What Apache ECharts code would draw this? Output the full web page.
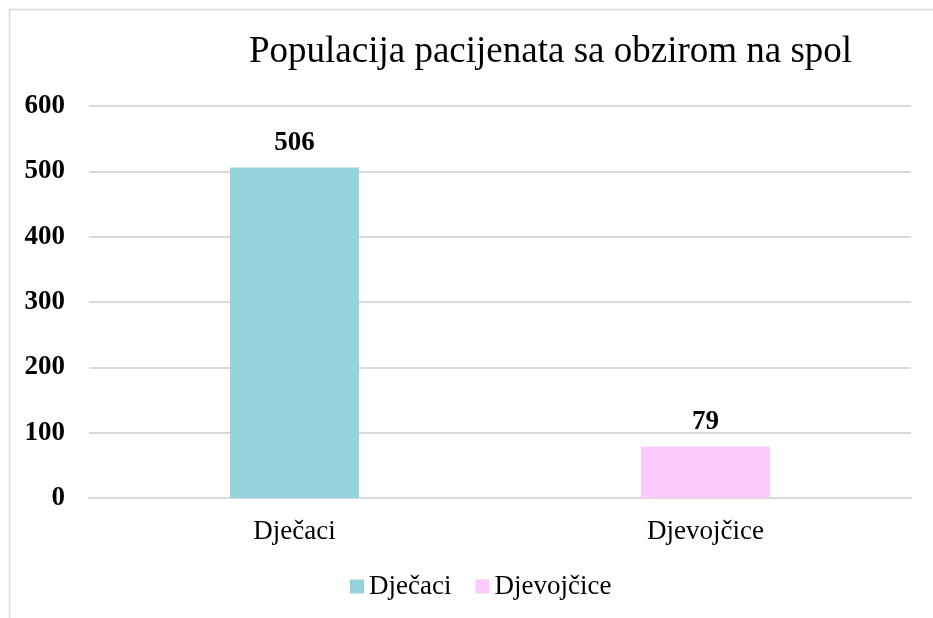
<!DOCTYPE html>
<html>
<head>
<meta charset="utf-8">
<script src="https://cdn.jsdelivr.net/npm/echarts@6/dist/echarts.min.js"></script>
<style>
  html, body { margin: 0; padding: 0; background: #fff; }
  #chart { width: 933px; height: 618px; }
</style>
</head>
<body>
<div id="chart"></div>
<script>
// podaci
var categories = ['Dječaci', 'Djevojčice'];
var seriesNames = ['Dječaci', 'Djevojčice'];
var boysValues = [506, '-'];
var girlsValues = ['-', 79];
var yTicks = [0, 100, 200, 300, 400, 500, 600];

var serif = '"Liberation Serif", "DejaVu Serif", serif';

var chart = echarts.init(document.getElementById('chart'));

function barSeries(name, data, color) {
    return {
        name: name,
        type: 'bar',
        data: data,
        barWidth: 129,
        barGap: '-100%',
        itemStyle: { color: color },
        label: {
            show: true,
            position: 'top',
            distance: 11,
            color: '#000',
            fontFamily: serif,
            fontWeight: 'bold',
            fontSize: 27
        }
    };
}

var option = {
    backgroundColor: '#fff',
    animation: false,
    graphic: [{
        type: 'rect',
        shape: { x: 9.5, y: 9.5, width: 1000, height: 1000 },
        style: { fill: 'none', stroke: '#d9d9d9', lineWidth: 1.5 },
        silent: true
    }],
    title: {
        text: 'Populacija pacijenata sa obzirom na spol',
        left: 244,
        top: 29,
        textStyle: {
            fontFamily: serif,
            fontWeight: 'normal',
            fontSize: 37,
            color: '#000'
        }
    },
    legend: {
        data: seriesNames,
        bottom: 13,
        left: 345,
        icon: 'rect',
        itemWidth: 14,
        itemHeight: 14,
        itemGap: 24,
        textStyle: { fontFamily: serif, fontSize: 27, color: '#000' }
    },
    grid: {
        left: 89,
        right: 22,
        top: 106,
        bottom: 120,
        containLabel: false
    },
    xAxis: {
        type: 'category',
        data: categories,
        axisLine: { show: true, lineStyle: { color: '#d9d9d9', width: 2 } },
        axisTick: { show: false },
        axisLabel: {
            fontFamily: serif,
            fontSize: 27,
            color: '#000',
            margin: 20
        }
    },
    yAxis: {
        type: 'value',
        min: yTicks[0],
        max: yTicks[yTicks.length - 1],
        interval: 100,
        axisLine: { show: false },
        axisTick: { show: false },
        splitLine: { lineStyle: { color: '#d9d9d9', width: 2 } },
        axisLabel: {
            fontFamily: serif,
            fontWeight: 'bold',
            fontSize: 27,
            color: '#000',
            margin: 24
        }
    },
    series: [
        barSeries(seriesNames[0], boysValues, '#94d3dc'),
        barSeries(seriesNames[1], girlsValues, '#fccbfd')
    ]
};

chart.setOption(option);
</script>
</body>
</html>
